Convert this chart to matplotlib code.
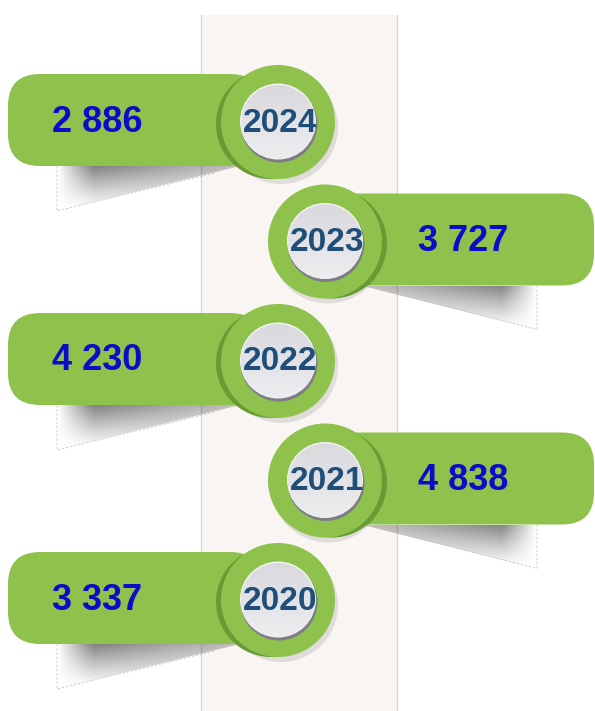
import numpy as np
import matplotlib.pyplot as plt
from matplotlib.patches import Circle, FancyBboxPatch, Polygon, Rectangle
from matplotlib import font_manager

# data, top to bottom
years = ['2024', '2023', '2022', '2021', '2020']
values = [2886, 3727, 4230, 4838, 3337]
sides = ['left', 'right', 'left', 'right', 'left']

GREEN = '#8ec24c'
DARK_GREEN = '#6a9a34'
VALUE_COLOR = '#0c0cc8'
YEAR_COLOR = '#1f4e79'

names = {f.name for f in font_manager.fontManager.ttflist}
year_font = 'Liberation Sans Narrow' if 'Liberation Sans Narrow' in names else 'Liberation Sans'

W, H = 595, 711
fig = plt.figure(figsize=(W / 100, H / 100), dpi=100)
ax = fig.add_axes([0, 0, 1, 1])
ax.set_xlim(0, W)
ax.set_ylim(H, 0)
ax.axis('off')

# background strip
ax.add_patch(Rectangle((201, 15), 196, H - 15, facecolor='#f9f5f2', edgecolor='none', zorder=0))
ax.plot([201, 201], [15, H], color='#d8d4ce', lw=1, zorder=0.5)
ax.plot([397, 397], [15, H], color='#d8d4ce', lw=1, zorder=0.5)


def gradient_fill(rgba, x0, x1, y0, y1, clip, z):
    im = ax.imshow(rgba, extent=(x0, x1, y1, y0), origin='upper', zorder=z,
                   interpolation='bilinear', aspect='auto')
    im.set_clip_path(clip)


def pill_shadow(side, pb):
    if side == 'left':
        xa, xb = 57, 240
        pts = [(xa, pb), (xb, pb), (xa, pb + 45)]
    else:
        xa, xb = 363, 537
        pts = [(xa, pb), (xb, pb), (xb, pb + 44)]
    poly = Polygon(pts, closed=True, transform=ax.transData)
    nx, ny = 120, 40
    u = np.linspace(0, 1, nx)[None, :]
    v = np.linspace(0, 1, ny)[:, None]
    if side == 'right':
        u = 1 - u
    a = 0.8 * (1 - v) ** 1.3 * np.clip(u / 0.2, 0, 1) * (1 - 0.6 * u)
    rgba = np.zeros((ny, nx, 4))
    rgba[..., :3] = 0.3
    rgba[..., 3] = a
    gradient_fill(rgba, xa, xb, pb, pb + 46, poly, 1)
    # faint dashed edge
    if side == 'left':
        ax.plot([xa, xa, 215], [pb, pb + 45, pb + 7], color='#c8c8c8', lw=0.6,
                ls=(0, (3, 2)), zorder=1.1)
    else:
        ax.plot([xb, xb, 395], [pb, pb + 44, pb + 8], color='#c8c8c8', lw=0.6,
                ls=(0, (3, 2)), zorder=1.1)


y0, step = 122, 119.5
for i, (yr, val, side) in enumerate(zip(years, values, sides)):
    cy = y0 + i * step
    if side == 'left':
        cx, px0, px1, vx = 278, 8, 262, 97
        off = -7
    else:
        cx, px0, px1, vx = 325, 320, 594, 463
        off = 7
    top, bot = cy - 48, cy + 44

    pill_shadow(side, bot)
    ax.add_patch(FancyBboxPatch((px0, top), px1 - px0, bot - top,
                                boxstyle='round,pad=0,rounding_size=32',
                                facecolor=GREEN, edgecolor='none', zorder=2))

    # circle badge
    ax.add_patch(Circle((cx + 3, cy + 5), 57, facecolor='black', alpha=0.1,
                        edgecolor='none', zorder=2.5))
    ax.add_patch(Circle((cx + off, cy + 2), 55, facecolor=DARK_GREEN,
                        edgecolor='none', zorder=3))
    ax.add_patch(Circle((cx, cy), 57, facecolor=GREEN, edgecolor='none', zorder=4))

    # inner disc
    ax.add_patch(Circle((cx + 1, cy + 2), 38.5, facecolor='#7d7d84', edgecolor='none', zorder=4.5))
    ax.add_patch(Circle((cx, cy - 0.5), 38, facecolor='#f4f4f6', edgecolor='none', zorder=4.6))
    disc = Circle((cx, cy), 37, transform=ax.transData)
    g = np.linspace(0, 1, 60)[:, None]
    top_c = np.array([0.85, 0.85, 0.87])
    bot_c = np.array([0.93, 0.93, 0.94])
    rgba = np.ones((60, 2, 4))
    rgba[..., :3] = (top_c * (1 - g) + bot_c * g)[:, None, :].reshape(60, 1, 3)
    gradient_fill(rgba, cx - 37, cx + 37, cy - 37, cy + 37, disc, 4.7)

    ax.text(cx + 2, cy + 1, yr, ha='center', va='center', fontsize=24,
            fontweight='bold', family=year_font, color=YEAR_COLOR, zorder=6)
    label = f'{val:,}'.replace(',', ' ')
    ax.text(vx, cy, label, ha='center', va='center', fontsize=26,
            fontweight='bold', family='Liberation Sans', color=VALUE_COLOR, zorder=6)

fig.savefig('out.png', dpi=100)
